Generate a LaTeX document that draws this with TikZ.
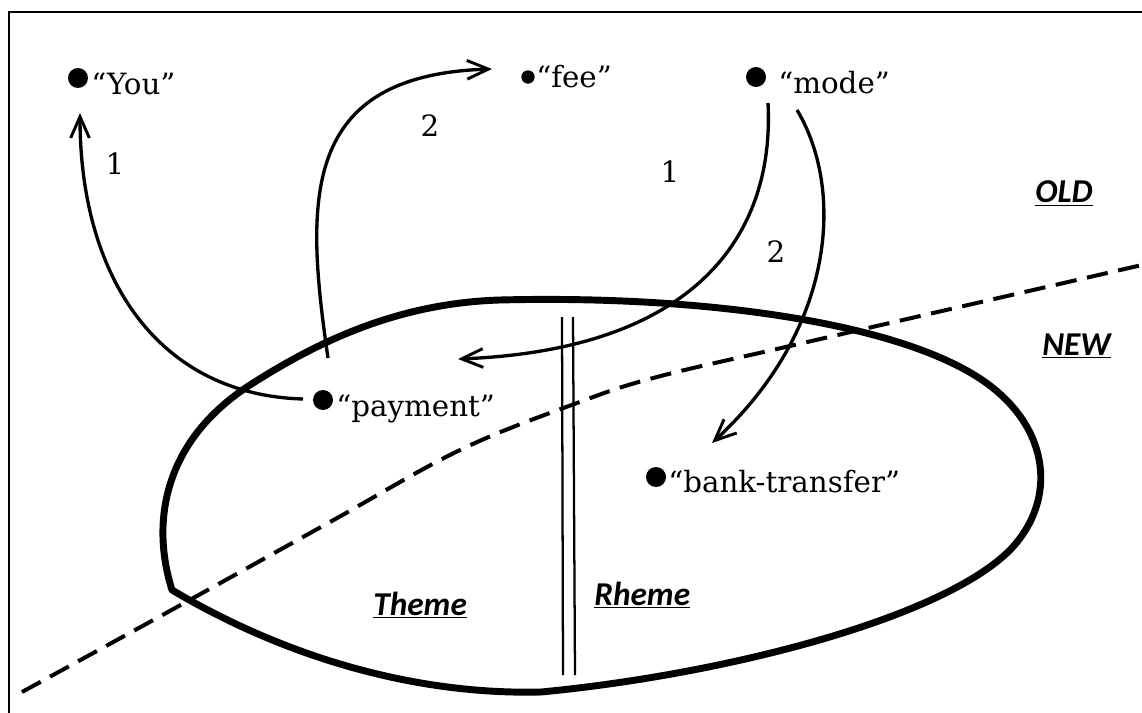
\documentclass[tikz,border=0pt]{standalone}
\usepackage{fontspec}
\newfontfamily\lblfont{Carlito}
\newfontfamily\wordfont{DejaVu Serif}
\usetikzlibrary{arrows.meta}
\begin{document}
\begin{tikzpicture}[x=0.75pt,y=-0.75pt,
  dot/.style={circle,fill=black,inner sep=0pt,minimum size=15pt},
  smalldot/.style={circle,fill=black,inner sep=0pt,minimum size=10pt},
  word/.style={anchor=base west,inner sep=0pt,font=\wordfont\fontsize{22}{26}\selectfont},
  num/.style={anchor=base,inner sep=0pt,font=\wordfont\fontsize{22}{26}\selectfont},
  zone/.style={anchor=base west,inner sep=0pt,font=\lblfont\bfseries\itshape\fontsize{25}{30}\selectfont},
  link/.style={line width=2.5pt,-{Straight Barb[length=16pt,width=14pt,line width=2.2pt]}},
  frameline/.style={line width=2pt},
  blob/.style={line width=5.2pt,line join=round},
  divider/.style={line width=1.7pt},
  border/.style={line width=3pt,dash pattern=on 16pt off 8pt}
]
\useasboundingbox (0,0) rectangle (1142,713);
% frame
\coordinate (ftl) at (9,12);
\coordinate (ftr) at (1142,12);
\coordinate (fbl) at (9,713);
\draw[frameline] (ftr) -- (ftl) -- (fbl);

% old/new border
\draw[border] plot[smooth,tension=0.6] coordinates {(22,692) (177,607) (330,522) (460,450) (577,403) (657,377) (803,343) (1142,265)};

% theme/rheme blob
\draw[blob] (172,590) .. controls (150,520) and (165,440) .. (250,385)
  .. controls (320,340) and (400,303) .. (500,300)
  .. controls (700,295) and (900,322) .. (985,382)
  .. controls (1050,428) and (1058,500) .. (1010,550)
  .. controls (940,620) and (720,675) .. (541,692)
  .. controls (420,695) and (290,660) .. cycle;

% divider
\coordinate (d1t) at (562,317); \coordinate (d1b) at (563,675);
\coordinate (d2t) at (573,317); \coordinate (d2b) at (575,675);
\draw[divider] (d1t) -- (d1b);
\draw[divider] (d2t) -- (d2b);

% referents
\node[dot] (youdot) at (78,78) {};
\node[word] (you) at (91,95) {“You”};
\node[smalldot] (feedot) at (528,77) {};
\node[word] (fee) at (536,88) {“fee”};
\node[dot] (modedot) at (756,77) {};
\node[word] (mode) at (778,94) {“mode”};
\node[dot] (paydot) at (323,400) {};
\node[word] (pay) at (336,416) {“payment”};
\node[dot] (bankdot) at (656,477) {};
\node[word] (bank) at (668,492) {“bank-transfer”};

% connector endpoints
\coordinate (p1) at (303,399);
\coordinate (y1) at (80,113);
\coordinate (p2) at (328,358);
\coordinate (f1) at (492,69);
\coordinate (m1) at (768,103);
\coordinate (p3) at (458,359);
\coordinate (m2) at (797,110);
\coordinate (b1) at (712,443);

\draw[link] (p1) .. controls (160,395) and (80,280) .. (y1);
\draw[link] (p2) .. controls (305,200) and (300,75) .. (f1);
\draw[link] (m1) .. controls (775,240) and (690,350) .. (p3);
\draw[link] (m2) .. controls (845,190) and (835,330) .. (b1);

% numbers
\node[num] (n1a) at (115,175) {1};
\node[num] (n2a) at (430,137) {2};
\node[num] (n1b) at (670,183) {1};
\node[num] (n2b) at (776,262) {2};

% zone labels
\node[zone] (old) at (1035,203) {\underline{OLD}};
\node[zone] (new) at (1042,355) {\underline{NEW}};
\node[zone] (theme) at (373,615) {\underline{Theme}};
\node[zone] (rheme) at (594,605) {\underline{Rheme}};
\end{tikzpicture}
\end{document}
